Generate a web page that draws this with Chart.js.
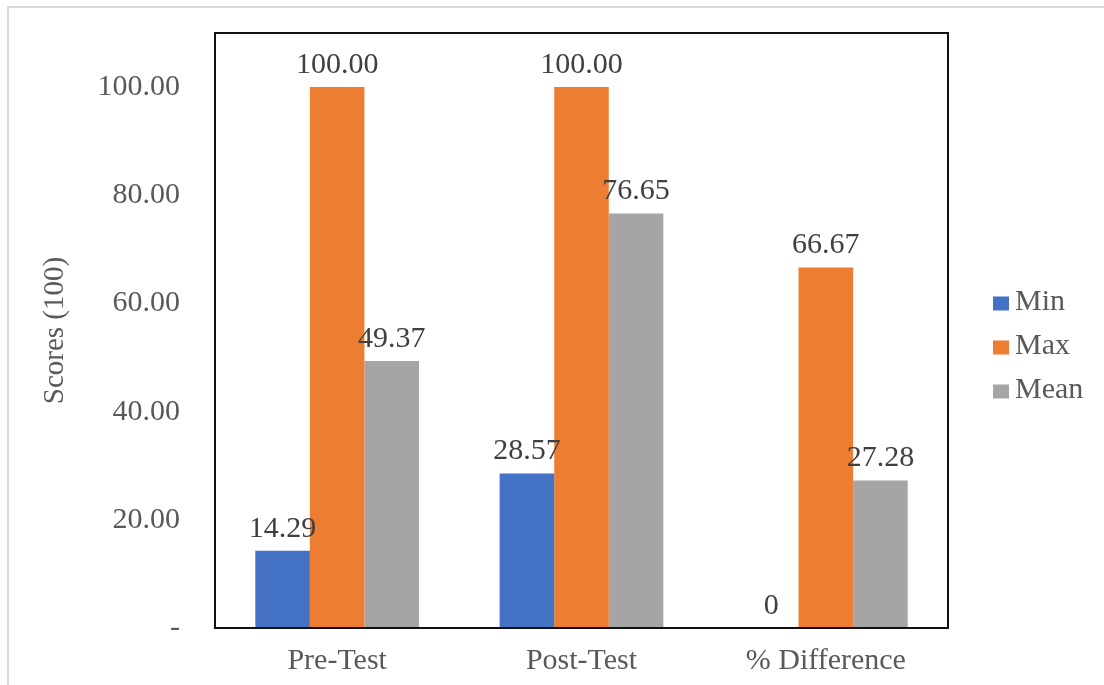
<!DOCTYPE html>
<html>
<head>
<meta charset="utf-8">
<script src="https://cdn.jsdelivr.net/npm/chart.js@4.4.1/dist/chart.umd.min.js"></script>
<style>
	html, body { margin: 0; padding: 0; background: #fff; overflow: hidden; }
	#frame { position: absolute; left: 7px; top: 6px; width: 1120px; height: 700px; border: 2px solid #d9d9d9; }
	#wrap { position: absolute; left: 0; top: 0; width: 1104px; height: 685px; }
</style>
</head>
<body>
<div id="frame"></div>
<div id="wrap"><canvas id="scoreChart"></canvas></div>
<script>
// Test phases and their scores
const categories = ['Pre-Test', 'Post-Test', '% Difference'];
const minScores = [14.29, 28.57, 0];
const maxScores = [100.00, 100.00, 66.67];
const meanScores = [49.37, 76.65, 27.28];
const seriesNames = ['Min', 'Max', 'Mean'];
const yTicks = [0, 20, 40, 60, 80, 100];

const colors = ['#4472C4', '#ED7D31', '#A5A5A5'];
const serif = '"Liberation Serif", "Times New Roman", serif';

// value labels above each bar
const valueLabels = {
	id: 'valueLabels',
	afterDatasetsDraw(chart) {
		const c = chart.ctx;
		c.save();
		c.font = '30px ' + serif;
		c.fillStyle = '#404040';
		c.textAlign = 'center';
		c.textBaseline = 'alphabetic';
		chart.data.datasets.forEach((ds, i) => {
			chart.getDatasetMeta(i).data.forEach((bar, j) => {
				const v = ds.data[j];
				const txt = v === 0 ? '0' : v.toFixed(2);
				c.fillText(txt, bar.x, bar.y - 14);
			});
		});
		c.restore();
	}
};

// black box round the plot area
const plotFrame = {
	id: 'plotFrame',
	afterDraw(chart) {
		const a = chart.chartArea;
		const c = chart.ctx;
		c.save();
		c.strokeStyle = '#111';
		c.lineWidth = 2;
		c.strokeRect(a.left, a.top, a.right - a.left, a.bottom - a.top);
		c.restore();
	}
};

// legend on the right, Excel style
const sideLegend = {
	id: 'sideLegend',
	afterDraw(chart) {
		const c = chart.ctx;
		const mid = (chart.chartArea.top + chart.chartArea.bottom) / 2;
		c.save();
		c.font = '30px ' + serif;
		c.textBaseline = 'middle';
		c.textAlign = 'left';
		chart.data.datasets.forEach((ds, i) => {
			const y = mid - 28 + i * 44;
			c.fillStyle = ds.backgroundColor;
			c.fillRect(993, y - 6, 16, 14);
			c.fillStyle = '#595959';
			c.fillText(ds.label, 1015, y);
		});
		c.restore();
	}
};

const ctx = document.getElementById('scoreChart').getContext('2d');

new Chart(ctx, {
	type: 'bar',
	data: {
		labels: categories,
		datasets: [
			{ label: seriesNames[0], data: minScores, backgroundColor: colors[0] },
			{ label: seriesNames[1], data: maxScores, backgroundColor: colors[1] },
			{ label: seriesNames[2], data: meanScores, backgroundColor: colors[2] }
		]
	},
	options: {
		responsive: true,
		maintainAspectRatio: false,
		animation: false,
		layout: { padding: { top: 33, right: 156, left: 0, bottom: 0 } },
		datasets: {
			bar: { categoryPercentage: 0.67, barPercentage: 1.0 }
		},
		plugins: {
			legend: { display: false },
			tooltip: { enabled: false }
		},
		scales: {
			x: {
				grid: { display: false, drawTicks: false },
				border: { display: false },
				ticks: {
					color: '#595959',
					font: { family: serif, size: 30 },
					padding: 15
				},
				afterFit(scale) { scale.height = 57; }
			},
			y: {
				min: 0,
				max: 110,
				grid: { display: false, drawTicks: false },
				border: { display: false },
				afterBuildTicks(scale) {
					scale.ticks = yTicks.map(v => ({ value: v }));
				},
				ticks: {
					color: '#595959',
					font: { family: serif, size: 30 },
					padding: 35,
					callback: v => v === 0 ? '-' : v.toFixed(2)
				},
				title: {
					display: true,
					text: 'Scores (100)',
					color: '#595959',
					font: { family: serif, size: 29 },
					padding: { top: 38, bottom: 0 }
				},
				afterFit(scale) {
					scale.width = 215;
					scale.paddingTop = 0;
					scale.paddingBottom = 0;
				}
			}
		}
	},
	plugins: [valueLabels, plotFrame, sideLegend]
});
</script>
</body>
</html>
